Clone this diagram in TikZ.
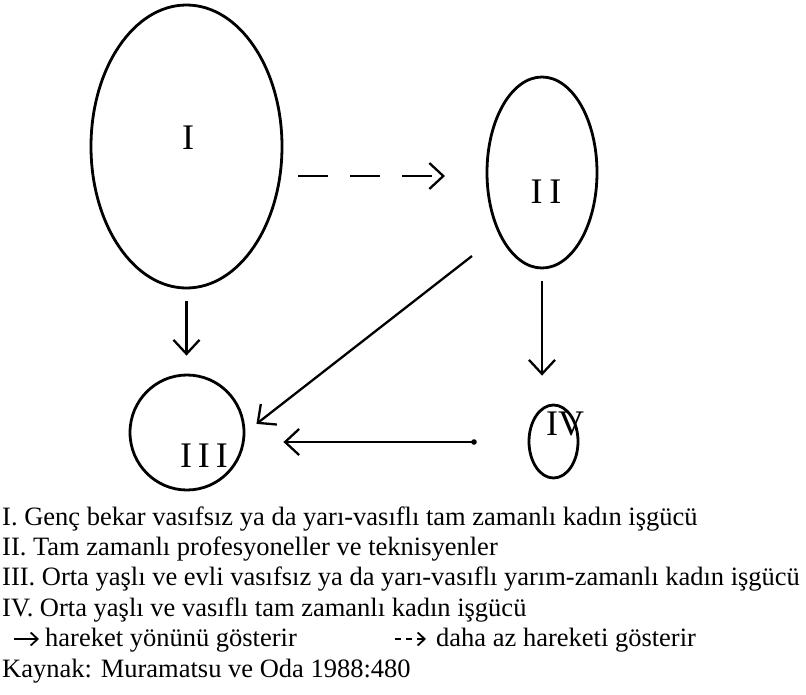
\documentclass[tikz,border=0pt]{standalone}
\usepackage{fontspec}
\setmainfont{Liberation Serif}
\usetikzlibrary{shapes.geometric,arrows.meta}
\begin{document}
\begin{tikzpicture}[x=1pt,y=-1pt,
  oval/.style={draw, ellipse, line width=2.8pt, inner sep=0pt},
  lab/.style={font=\fontsize{36}{38}\selectfont, inner sep=0pt},
  txt/.style={font=\fontsize{26.5}{28}\selectfont, inner sep=0pt, anchor=base west},
  arr/.style={line width=2.3pt, -{Straight Barb[length=14pt,width=26pt,line width=2.3pt]}},
  darr/.style={arr, dash pattern=on 30pt off 22pt},
  smallarr/.style={line width=1.8pt, -{Straight Barb[length=7pt,width=13pt,line width=1.8pt]}}]
\useasboundingbox (0,0) rectangle (806,694);

% ellipses
\node[oval, minimum width=191pt, minimum height=283pt] (I) at (186.5,146.5) {};
\node[oval, minimum width=110pt, minimum height=191pt] (II) at (542,172.5) {};
\node[oval, minimum width=114pt, minimum height=115pt] (III) at (187,432.5) {};
\node[oval, minimum width=49pt, minimum height=73pt] (IV) at (553.5,441.5) {};

% labels
\node[lab] (lI) at (188,137.5) {I};
\node[lab] (lII) at (546,192) {I\hspace{7pt}I};
\node[lab] (lIII) at (204,456) {I\hspace{6pt}I\hspace{6pt}I};
\node[lab] (lIV) at (565,424) {IV};

% connectors
\coordinate (d1) at (298,176);
\coordinate (d2) at (445,176);
\draw[darr] (d1) -- (d2);
\draw[arr, shorten <=12pt, shorten >=18pt] (I.south) -- (I.south |- III.north);
\draw[arr, shorten <=12pt, shorten >=28pt] (II.south) -- (II.south |- IV.north);
\coordinate (g1) at (472,256);
\draw[arr, shorten >=14pt] (g1) -- (III.east);
\coordinate (h1) at (474,442);
\fill (h1) circle (2.8pt);
\draw[arr, shorten >=38pt] (h1) -- (h1 -| III.east);

% legend text
\node[txt] (t1) at (2,525) {I. Genç bekar vasıfsız ya da yarı-vasıflı tam zamanlı kadın işgücü};
\node[txt] (t2) at (2,555.4) {II. Tam zamanlı profesyoneller ve teknisyenler};
\node[txt] (t3) at (2,585.8) {III. Orta yaşlı ve evli vasıfsız ya da yarı-vasıflı yarım-zamanlı kadın işgücü};
\node[txt] (t4) at (2,616.2) {IV. Orta yaşlı ve vasıflı tam zamanlı kadın işgücü};
\node[txt] (t5a) at (45,646.6) {hareket yönünü gösterir};
\node[txt] (t5b) at (436,646.6) {daha az hareketi gösterir};
\node[txt] (t6) at (2,677) {Kaynak: Muramatsu ve Oda 1988:480};

\coordinate (s1) at (14,639);
\coordinate (s2) at (39,639);
\draw[smallarr] (s1) -- (s2);
\coordinate (q1) at (395,639);
\coordinate (q2) at (426,639);
\draw[smallarr, dash pattern=on 6pt off 5pt] (q1) -- (q2);
\end{tikzpicture}
\end{document}
